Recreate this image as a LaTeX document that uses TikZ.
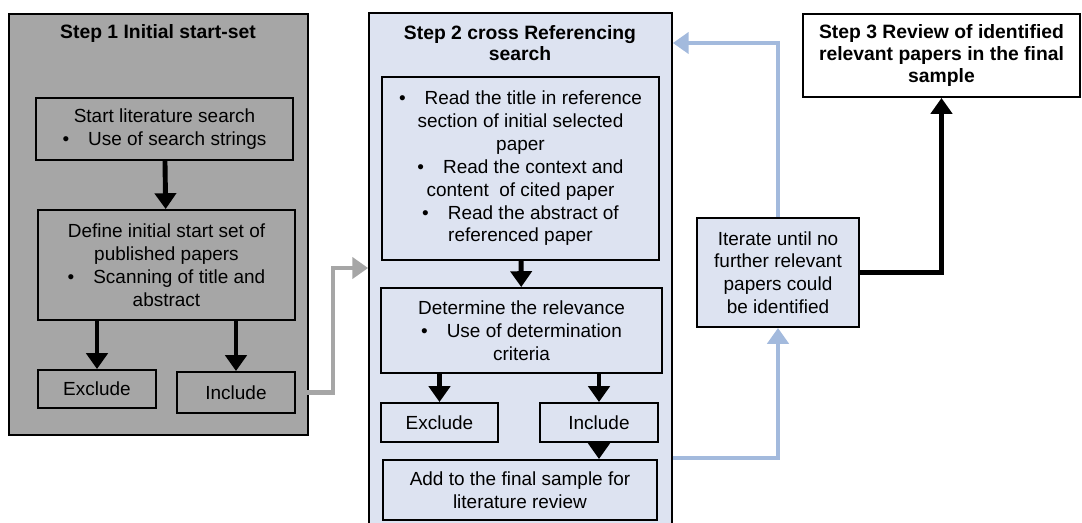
\documentclass[tikz,border=0pt]{standalone}
\usepackage{fontspec}
\setmainfont{Liberation Sans}
\usetikzlibrary{arrows.meta}
\definecolor{stepgray}{RGB}{166,166,166}
\definecolor{stepblue}{RGB}{221,227,241}
\definecolor{linkblue}{RGB}{163,186,221}
\newcommand{\bul}{\textbullet\quad}

\begin{document}
\begin{tikzpicture}[font=\fontsize{10.8}{13}\selectfont,
    outer/.style={draw, line width=1pt},
    box/.style={draw, line width=1.1pt, align=center, inner sep=2pt},
    ttl/.style={align=center, font=\fontsize{11}{11.6}\selectfont\bfseries},
    blk/.style={line width=2.8pt, -{Triangle[width=12pt,length=9pt]}},
    gry/.style={line width=2.8pt, draw=stepgray, -{Triangle[width=12pt,length=9pt]}},
    blu/.style={line width=2.8pt, draw=linkblue, -{Triangle[width=12pt,length=9pt]}}]
    \useasboundingbox (0,0) rectangle (21.64,-10.44);

    % step 1
    \node[outer, fill=stepgray, minimum width=5.98cm, minimum height=8.42cm] (step1) at (3.17,-4.49) {};
    \node[ttl] (t1) at (3.16,-0.66) {Step 1 Initial start-set};
    \node[box, fill=stepgray, minimum width=5.14cm, minimum height=1.24cm] (s1) at (3.29,-2.58) {Start literature search\\ \bul Use of search strings};
    \node[box, fill=stepgray, minimum width=5.14cm, minimum height=2.20cm] (d1) at (3.33,-5.30) {Define initial start set of\\ published papers\\ \bul Scanning of title and\\ abstract};
    \node[box, fill=stepgray, minimum width=2.36cm, minimum height=0.76cm] (e1) at (1.94,-7.78) {Exclude};
    \node[box, fill=stepgray, minimum width=2.36cm, minimum height=0.82cm] (i1) at (4.72,-7.85) {Include};

    % step 2
    \node[outer, fill=stepblue, minimum width=6.06cm, minimum height=10.54cm] (step2) at (10.41,-5.53) {};
    \node[ttl] (t2) at (10.40,-0.86) {Step 2 cross Referencing\\ search};
    \node[box, fill=stepblue, minimum width=5.54cm, minimum height=3.66cm] (r1) at (10.41,-3.37) {\bul Read the title in reference\\ section of initial selected\\ paper\\ \bul Read the context and\\ content\ \ of cited paper\\ \bul Read the abstract of\\ referenced paper};
    \node[box, fill=stepblue, minimum width=5.62cm, minimum height=1.70cm] (dt) at (10.43,-6.61) {Determine the relevance\\ \bul Use of determination\\ criteria};
    \node[box, fill=stepblue, minimum width=2.34cm, minimum height=0.78cm] (e2) at (8.79,-8.45) {Exclude};
    \node[box, fill=stepblue, minimum width=2.36cm, minimum height=0.78cm] (i2) at (11.98,-8.45) {Include};
    \node[box, fill=stepblue, minimum width=5.48cm, minimum height=1.20cm] (ad) at (10.40,-9.80) {Add to the final sample for\\ literature review};

    % iterate and step 3
    \node[box, fill=stepblue, minimum width=3.24cm, minimum height=2.18cm] (it) at (15.56,-5.45) {Iterate until no\\ further relevant\\ papers could\\ be identified};
    \node[box, fill=white, font=\fontsize{11}{12.6}\selectfont\bfseries, minimum width=5.54cm, minimum height=1.66cm] (s3) at (18.83,-1.11) {Step 3 Review of identified\\ relevant papers in the final\\ sample};

    \draw[blk] (s1) -- (d1);
    \draw[blk] (d1.south -| e1) -- (e1);
    \draw[blk] (d1.south -| i1) -- (i1);
    \draw[blk] (r1) -- (dt);
    \draw[blk] (dt.south -| e2) -- (e2);
    \draw[blk] (dt.south -| i2) -- (i2);
    \draw[blk] (i2) -- (i2 |- ad.north);

    \draw[gry] (i1.east) -- ++(0.74,0) |- ([yshift=0.17cm]step2.west);
    \draw[blu] (it.north) |- (step2.east |- t2);
    \draw[blu] ([yshift=-3.63cm]step2.east) -| (it.south);
    \draw[blk] (it.east) -| (s3.south);
\end{tikzpicture}
\end{document}
